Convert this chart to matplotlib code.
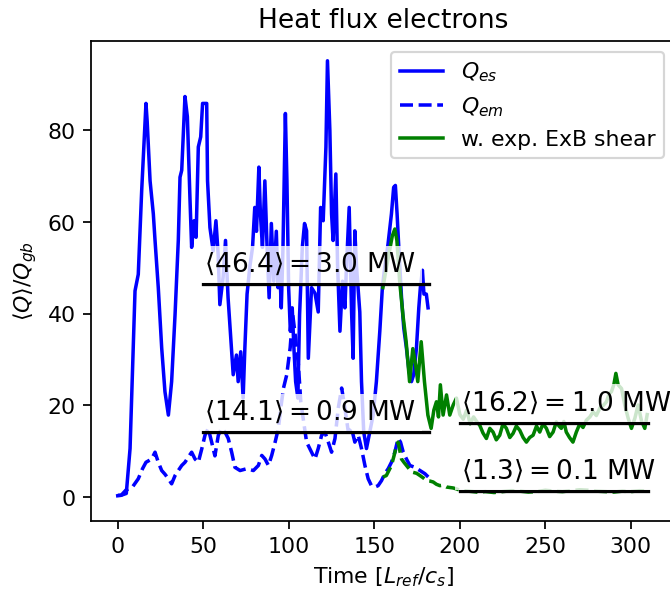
import matplotlib
matplotlib.use("Agg")
import matplotlib.pyplot as plt

# ---------------- data ----------------
t_es = [0, 2, 5, 7.2, 10.1, 12, 14, 16.5, 17.2, 18.9, 20.8, 21.8, 23.7, 25.7, 27.6, 29.6,
        31.5, 33.5, 35.4, 36.4, 37.4, 39.3, 40.7, 42.2, 43.2, 44.6, 45.8, 47.1, 48.5, 49.6,
        52, 52.5, 53.9, 55.8, 57.4, 58.7, 59.7, 61.6, 63, 64.5, 65.9, 67.5, 69.4, 70.4,
        71.9, 73.3, 74.3, 75.6, 77.2, 78.8, 80.1, 81.1, 82.5, 83.4, 84.6, 86, 87.3, 88.5,
        89.8, 91.2, 92.7, 93.7, 94.7, 95.6, 96.6, 98, 98.9, 99.9, 100.9, 102, 103, 104,
        105.3, 106.3, 107.9, 109.2, 110.4, 111.4, 113.3, 115.3, 117.2, 118.6, 120.1, 121.7,
        122.6, 124, 125, 125.9, 127.5, 128.5, 129.9, 131.4, 132.8, 133.7, 135.3, 136.7,
        137.6, 138.6, 139.6, 140.5, 141.5, 142.5, 143.8, 145.4, 147.3, 149.3, 151.2, 153.2,
        154.7, 156.1, 158, 160, 161.3, 162.3, 163.3, 164.5, 165.9, 167.2, 168.8, 170.3,
        171.7, 173, 174.6, 176, 176.9, 178.1, 179, 180.4, 181.4]
q_es = [0.3, 0.4, 0.8, 10.6, 45, 48.6, 66.9, 85.9, 82, 69, 61.8, 56, 45.7, 32.5, 23, 17.9,
        25.2, 39.8, 56, 69.8, 71.3, 87.4, 83, 65.4, 54.5, 60.3, 56.7, 76.4, 78.6, 85.9,
        85.9, 69, 58.8, 53.7, 60.3, 53, 42, 48, 56, 43.5, 35.5, 26.7, 31, 25.2,
        31.7, 21.6, 32.4, 44.3, 50.2, 54.5, 63.2, 58, 72, 61.8, 54.5, 69, 54.5, 43.5,
        59.7, 47.1, 58, 45.7, 50.2, 41.3, 54.5, 83.7, 69, 45.7, 36.2, 41.3, 32.4, 25.2,
        21.6, 39.8, 54.5, 59.7, 58.1, 30.3, 45.7, 44.5, 40.4, 63.2, 60.3, 76.4,
        95.2, 80, 61.8, 56, 70.5, 50.8, 36.2, 47.1, 41.3, 50.2, 63.2, 40.4,
        30.3, 58.1, 50.2, 45.7, 40.4, 25.2, 14.2, 10.6, 14.2, 17.9, 25.2, 36.2,
        45.7, 50.2, 55.2, 61.8, 67.6, 68, 61.8, 53, 43.5, 36.9, 32.4, 27.4,
        25.2, 26.7, 32.4, 41.3, 45.7, 49.5, 44.3, 44.3, 41.3]

t_em = [0, 2, 4.7, 8.6, 12, 14.5, 16.5, 19.8, 21.8, 23.7, 25.7, 27.6, 29.6, 31.5, 33.5,
        35.4, 37.4, 39.3, 41.2, 43.2, 45.2, 47.1, 49.1, 51, 52.9, 54.9, 56.8, 58.8, 60.7,
        62.7, 64.6, 66.6, 68.5, 71.5, 75.4, 79.3, 82.2, 84.2, 86.1, 88.1, 90, 92, 93.9,
        95.3, 96.9, 98.8, 100.8, 102.3, 103.7, 105.6, 107, 110.4, 113.3, 115.3, 117.2,
        119.2, 121.1, 123.1, 125, 127, 128.9, 130.9, 132.8, 134.8, 136.7, 138.6, 140.6,
        142.5, 144.5, 146.4, 148.3, 150.3, 152.2, 154.2, 156.1, 158.1, 160, 162, 163.9,
        165.3, 166.9, 168.8, 170.8, 173.7, 176.7, 179.6, 181.5]
q_em = [0.4, 0.4, 1.5, 2.2, 4, 6.2, 7.6, 8.3, 9.8, 7.6, 5.8, 5, 4, 2.9, 4.7,
        5.8, 6.9, 7.6, 8.7, 9.8, 8.3, 7.6, 10.5, 13.5, 15, 12, 9, 13.5, 15,
        14.2, 12.8, 9.8, 6.5, 5.8, 6.2, 5.8, 6.9, 9.1, 8.3, 6.9, 9.1, 12, 15,
        19.4, 23.8, 26.7, 32.6, 39.8, 35.5, 28.9, 20.8, 12, 9.8, 8.3, 10.6,
        13.5, 14.2, 12, 9.8, 12.8, 19.4, 23.8, 19.4, 14.2, 15, 12, 13.5,
        10.6, 6.9, 4, 2.5, 2.2, 2.5, 3.6, 5.1, 6.2, 7.6, 9.8, 12.8,
        12, 9.8, 8.3, 6.9, 6.5, 5.8, 5.1, 4.4]

t_es_shear = [155, 157, 159, 160.5, 162, 163.2, 164.8, 166.7, 168.6, 170.6, 172.5, 174.1,
              175.4, 177.4, 179.3, 181.3, 183.2, 184.8, 186.3, 187.5, 188.6, 190.2, 192.2,
              194.1, 196.1, 198, 200, 202, 204, 206, 208, 209.8, 211.6, 213.5, 215.5, 217.5,
              219.4, 221.3, 223.3, 225.2, 227.2, 229.2, 231.1, 233, 235, 237, 238.9, 240.8,
              242.8, 244.8, 246.7, 248.6, 250.6, 252.5, 254.5, 256.4, 258, 259.3, 260.8,
              262.2, 264.1, 266.1, 268.1, 270.1, 272, 274, 276, 277.9, 279.8, 281.8, 283.8,
              285.7, 287.2, 288.6, 290, 291.2, 292.5, 294.5, 296.4, 298.4, 300.3, 302.3,
              304.2, 306.2, 308.1, 309.5]
q_es_shear = [45.7, 50, 54, 57, 58.5, 56, 47.1, 39.8, 33.9, 25.2, 32.4, 28.9,
              25.2, 33.9, 25.2, 17.9, 15, 19, 20.8, 17.5, 24.5, 17.9, 22.3,
              17.9, 20.1, 21.6, 18, 17, 19, 16, 17.5, 16.5, 15.7, 14, 12.8, 15,
              14.2, 12.5, 13.5, 16, 15, 13, 13.9, 15.5, 14.6, 13, 12, 13,
              13.5, 15.5, 14.2, 16, 15, 13.2, 14.2, 16.4, 15.5, 15, 16.5,
              14.2, 13, 12, 14.2, 16, 15.2, 16.8, 17.5, 18.6, 17.8, 19.4, 20,
              20.8, 22.5, 23, 24.5, 27, 24.5, 23.7, 20.1, 17.2, 15, 17.2,
              20.1, 16.6, 15, 18]

t_em_shear = [155, 157, 160, 161.5, 163, 163.9, 165.9, 167.5, 168.8, 170.7, 172.7, 174.7,
              176.7, 178.6, 180.6, 182.5, 184.4, 186.3, 188.3, 190.2, 192.2, 194.1, 196, 198,
              200, 205, 210, 215, 220, 225, 230, 235, 240, 245, 250, 255, 260, 265, 270,
              275, 280, 285, 290, 295, 300, 305, 310]
q_em_shear = [4.4, 4.7, 6.9, 9, 11.3, 12, 8.3, 7.5, 6.9, 6, 5.4, 5.2,
              4.7, 4.2, 3.6, 3.5, 3.3, 2.8, 2.5, 2.6, 2.2, 2.1, 2.0, 1.8,
              1.5, 1.3, 1.1, 1.2, 1.0, 1.2, 1.4, 1.3, 1.1, 1.2, 1.5, 1.3, 1.2, 1.4,
              1.6, 1.5, 1.3, 1.2, 1.1, 1.3, 1.2, 1.4, 1.3]

# average annotations
avg_vals = [46.4, 14.1, 16.2, 1.3]
avg_mw = [3.0, 0.9, 1.0, 0.1]
avg_start = [50, 50, 200, 200]
avg_end = [182, 182, 310, 310]

legend_labels = [r"$Q_{es}$", r"$Q_{em}$", "w. exp. ExB shear"]

# ---------------- figure ----------------
DPI = 158
fig = plt.figure(figsize=(670.4 / DPI, 591.4 / DPI), dpi=DPI)
ax = fig.add_axes([91 / 670, 70 / 591, 584 / 670, 480 / 591])

l1, = ax.plot(t_es, q_es, color="blue", lw=1.6, label=legend_labels[0])
l2, = ax.plot(t_em, q_em, color="blue", lw=1.6, ls="--", label=legend_labels[1])
l3, = ax.plot(t_es_shear, q_es_shear, color="green", lw=1.6, label=legend_labels[2])
ax.plot(t_em_shear, q_em_shear, color="green", lw=1.6, ls="--")

for v, mw, s, e in zip(avg_vals, avg_mw, avg_start, avg_end):
    ax.plot([s, e], [v, v], color="black", lw=1.5)
    ax.text(s + 0.5, v + 1.5, r"$\langle %.1f\rangle = %.1f$ MW" % (v, mw), fontsize=12,
            ha="left", va="bottom",
            bbox=dict(facecolor="white", alpha=0.8, edgecolor="none", pad=2.5))

ax.set_xlim(-15.6, 326)
ax.set_ylim(-5.2, 99.6)
ax.set_xticks([0, 50, 100, 150, 200, 250, 300])
ax.set_yticks([0, 20, 40, 60, 80])
ax.set_title("Heat flux electrons")
ax.set_xlabel(r"Time $[L_{ref}/c_s]$")
ax.set_ylabel(r"$\langle Q\rangle/Q_{gb}$")
ax.legend(handles=[l1, l2, l3], loc="upper right")

fig.savefig("out.png", dpi=DPI)
